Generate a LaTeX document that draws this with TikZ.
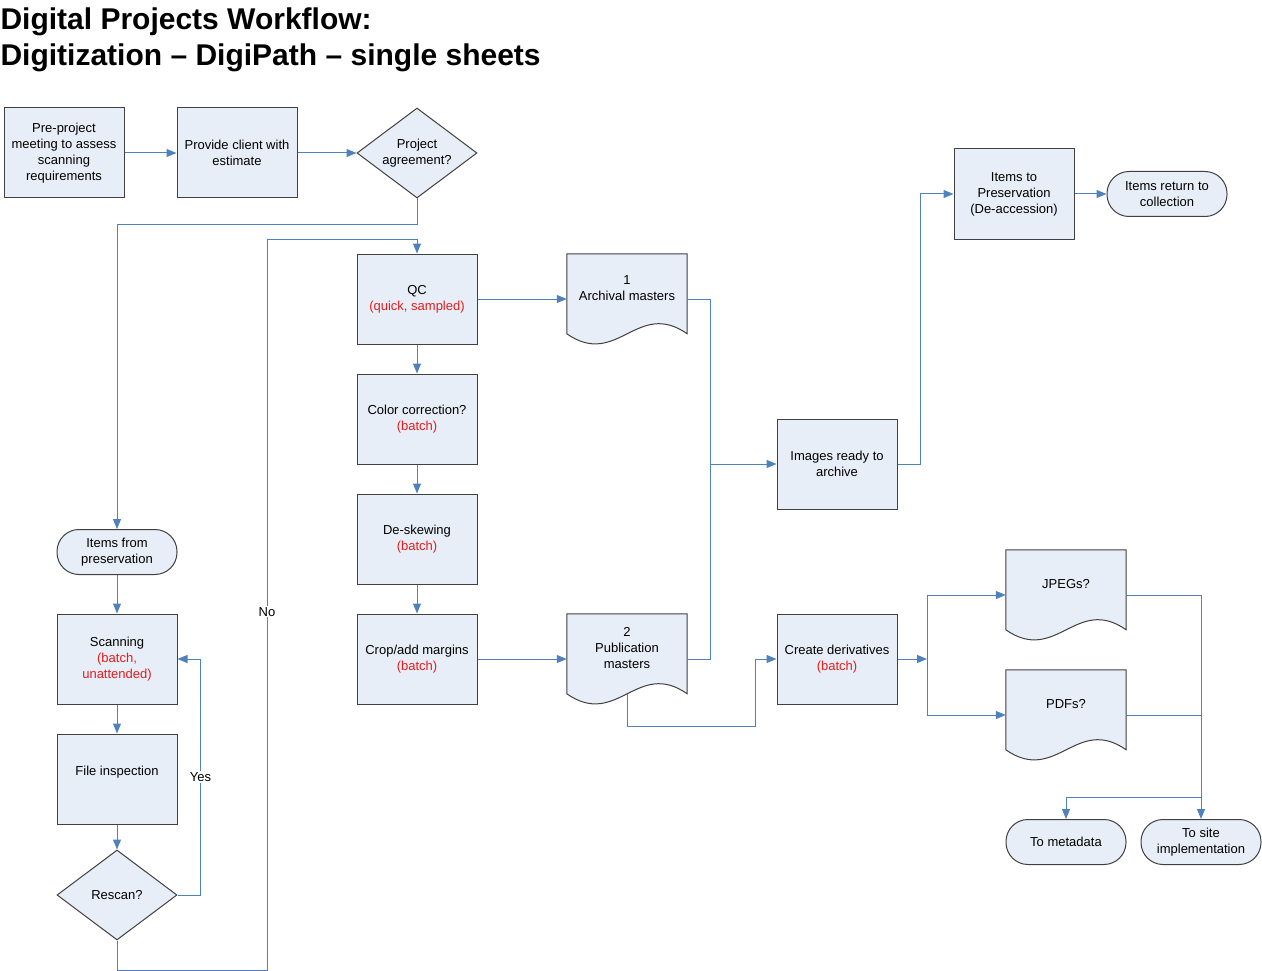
\documentclass[tikz,border=0pt]{standalone}
\usepackage{fontspec}
\setmainfont{Liberation Sans}
\usepackage{xcolor}
\definecolor{box}{RGB}{232,238,247}
\definecolor{rim}{RGB}{64,64,64}
\definecolor{flo}{RGB}{79,129,189}
\definecolor{rot}{RGB}{228,28,28}
\usepackage{tikz}
\usetikzlibrary{calc,shapes.geometric,arrows.meta,backgrounds}
\newcommand{\redtxt}[1]{\textcolor{rot}{#1}}
\newcommand{\DocShape}[2][]{%
\filldraw[#1] (#2.north west) -- (#2.north east) -- ($(#2.north east)+(0,80)$)
 .. controls ($(#2.north east)+(-50,45)$) and ($(#2.north east)+(-70,115)$) .. ($(#2.north west)+(0,80)$) -- cycle;}

\begin{document}
\begin{tikzpicture}[x=1pt,y=-1pt,font=\fontsize{13pt}{16pt}\selectfont]
	\tikzstyle{proc}=[rectangle,draw=rim,fill=box,line width=1pt,minimum width=120,minimum height=90,align=center,inner sep=2pt];
	\tikzstyle{term}=[proc,rounded corners=22pt,minimum height=45];
	\tikzstyle{choice}=[diamond,aspect=1.333,draw=rim,fill=box,line width=1pt,minimum width=120,minimum height=90,inner sep=0pt,align=center];
	\tikzstyle{docnode}=[rectangle,minimum width=120,minimum height=90,inner sep=0pt];
	\tikzstyle{doctext}=[align=center,yshift=11pt];
	\tikzstyle{doc}=[draw=rim,fill=box,line width=1pt];
	\tikzstyle{flow}=[draw=flo,line width=1pt,-{Triangle[length=10pt,width=8pt]}];
	\tikzstyle{link}=[draw=flo,line width=1pt];
	\tikzstyle{lbl}=[fill=white,inner sep=1pt];
%<--------------------------------------------------------------------------->%
	\useasboundingbox (0,0) rectangle (1262,971);
	\node[anchor=base west,align=left,font=\bfseries\fontsize{30pt}{36pt}\selectfont] (title) at (-3,66)
		{Digital Projects Workflow:\\Digitization -- DigiPath -- single sheets};
	%% Project start
	\node[proc] (meet)  at (64,153)  {Pre-project\\meeting to assess\\scanning\\requirements};
	\node[proc] (quote) at (237,153) {Provide client with\\estimate};
	\node[choice] (agree) at (417,153) {Project\\agreement?};
	%% Scanning loop
	\node[term] (fromp) at (117,552) {Items from\\preservation};
	\node[proc] (scan) at (117,659) {Scanning\\\redtxt{(batch,}\\\redtxt{unattended)}};
	\node[proc] (insp) at (117,779) {File inspection\\\mbox{}};
	\node[choice] (rescan) at (117,895) {Rescan?};
	%% Processing
	\node[proc] (qc)     at (417,299) {QC\\\redtxt{(quick, sampled)}};
	\node[proc] (color)  at (417,419) {Color correction?\\\redtxt{(batch)}};
	\node[proc] (deskew) at (417,539) {De-skewing\\\redtxt{(batch)}};
	\node[proc] (crop)   at (417,659) {Crop/add margins\\\redtxt{(batch)}};
	\node[docnode,label={[doctext]center:{1\\Archival masters}}] (arch) at (627,299) {};
	\node[docnode,label={[doctext]center:{2\\Publication\\masters}}] (pub) at (627,659) {};
	%% Archive and derivatives
	\node[proc] (ready) at (837,464)  {Images ready to\\archive};
	\node[proc] (deriv) at (837,659)  {Create derivatives\\\redtxt{(batch)}};
	\node[proc] (pres)  at (1014,194) {Items to\\Preservation\\(De-accession)};
	\node[term] (back)  at (1167,194) {Items return to\\collection};
	\node[docnode,label={[doctext]center:{JPEGs?}}] (jpeg) at (1066,595) {};
	\node[docnode,label={[doctext]center:{PDFs?}}]  (pdf)  at (1066,715) {};
	\node[term] (meta) at (1066,842) {To metadata};
	\node[term] (site) at (1201,842) {To site\\implementation};
	\begin{scope}[on background layer]
		\DocShape[doc]{arch}
		\DocShape[doc]{pub}
		\DocShape[doc]{jpeg}
		\DocShape[doc]{pdf}
	\end{scope}
	%% Bends
	\coordinate (nolow)  at (267,970);
	\coordinate (nohigh) at (267,239);
	\coordinate (bus)    at (710,464);
	\coordinate (pbend)  at (755,726);
	\coordinate (split)  at (927,659);
	\coordinate (tap)    at (1201,797);
	%% Connectors
	\draw[flow] (meet) -- (quote);
	\draw[flow] (quote) -- (agree);
	\draw[flow] (agree.south) -- ++(0,26) -| (fromp.north);
	\draw[flow] (fromp) -- (scan);
	\draw[flow] (scan) -- (insp);
	\draw[flow] (insp) -- (rescan);
	\draw[flow] (rescan.east) -- ++(23,0) |- node[lbl,pos=.25] {Yes} (scan.east);
	\draw[flow] (rescan.south) |- (nolow) -- node[lbl,pos=.49] {No} (nohigh) -| (qc.north);
	\draw[flow] (qc) -- (color);
	\draw[flow] (color) -- (deskew);
	\draw[flow] (deskew) -- (crop);
	\draw[flow] (qc) -- (arch);
	\draw[flow] (crop) -- (pub);
	\draw[flow] (arch.east) -| (bus) -- (ready);
	\draw[link] (pub.east) -| (bus);
	\draw[flow] ($(pub.north)+(0,80)$) |- (pbend) |- (deriv.west);
	\draw[flow] (ready.east) -- ++(23,0) |- (pres.west);
	\draw[flow] (pres) -- (back);
	\draw[flow] (deriv.east) -- (split);
	\draw[flow] (split) |- (jpeg.west);
	\draw[flow] (split) |- (pdf.west);
	\draw[flow] (jpeg.east) -| (site.north);
	\draw[link] (pdf.east) -- (pdf.east -| site.north);
	\draw[flow] (tap) -| (meta.north);
\end{tikzpicture}
\end{document}
